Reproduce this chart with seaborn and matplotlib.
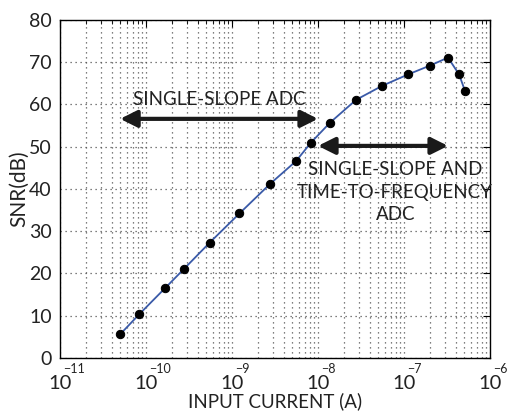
import numpy as np
import pandas as pd
import matplotlib
matplotlib.use("Agg")
import matplotlib.pyplot as plt
import matplotlib.ticker as mticker
import seaborn as sns

# data
current = [5.0e-11, 8.3e-11, 1.66e-10, 2.74e-10, 5.5e-10, 1.22e-9, 2.77e-9,
           5.55e-9, 8.3e-9, 1.38e-8, 2.77e-8, 5.55e-8, 1.11e-7, 2.0e-7,
           3.25e-7, 4.37e-7, 5.1e-7]
snr = [5.6, 10.3, 16.5, 21.0, 27.3, 34.2, 41.2, 46.6, 51.0, 55.7, 61.1,
       64.4, 67.1, 69.2, 71.1, 67.1, 63.3]

arrow1 = [5.0e-11, 1.0e-8]
arrow1_y = 56.6
arrow2 = [1.0e-8, 3.25e-7]
arrow2_y = 50.2
label1 = "SINGLE-SLOPE ADC"
label2 = ["SINGLE-SLOPE AND", "TIME-TO-FREQUENCY", "ADC"]

df = pd.DataFrame({"current": current, "snr": snr})

sns.set_style("white")
font = ["Lato", "DejaVu Sans"]
plt.rcParams["font.family"] = font

fig = plt.figure(figsize=(5.09, 4.12), dpi=100)
ax = fig.add_axes([0.1179, 0.1311, 0.8448, 0.8204])

sns.lineplot(data=df, x="current", y="snr", ax=ax, color="#3a5aa8", lw=1.3,
             marker="o", markersize=6, markerfacecolor="black",
             markeredgecolor="black", zorder=3)

ax.set_xscale("log")
ax.set_xlim(1e-11, 1e-6)
ax.set_ylim(0, 80)
ax.set_yticks(range(0, 81, 10))
ax.xaxis.set_major_locator(mticker.LogLocator(base=10, numticks=10))
ax.xaxis.set_minor_locator(mticker.LogLocator(base=10, subs=np.arange(2, 10), numticks=10))
# matlab style: big "10" centred on the tick, small exponent up-right
ax.xaxis.set_major_formatter(mticker.FuncFormatter(lambda v, p: "10"))
ax.xaxis.set_minor_formatter(mticker.NullFormatter())
for v in ax.get_xticks():
    if 1e-11 * 0.99 <= v <= 1e-6 * 1.01:
        e = int(round(np.log10(v)))
        ax.annotate(f"\u2212{abs(e)}", xy=(v, 0), xycoords=("data", "axes fraction"),
                    xytext=(2.5, -3.5), textcoords="offset points", ha="left", va="top",
                    fontsize=9, color="#222222", annotation_clip=False)

dots = (0, (1, 3))
ax.grid(True, which="major", axis="both", linestyle=dots, color="#555555", lw=0.9)
ax.grid(True, which="minor", axis="x", linestyle=dots, color="#555555", lw=0.9)
ax.tick_params(which="both", direction="in", top=True, right=True, color="black")
ax.tick_params(which="major", length=5, width=0.8, pad=6)
ax.tick_params(axis="y", labelsize=14, labelcolor="#222222")
ax.tick_params(axis="x", which="major", labelsize=14.5, pad=12.5, labelcolor="#222222")
ax.tick_params(which="minor", length=3, width=0.6)
for s in ax.spines.values():
    s.set_color("black")
    s.set_linewidth(1.0)

ax.set_xlabel("INPUT CURRENT (A)", fontsize=13.5, labelpad=0, color="#222222")
ax.set_ylabel("SNR(dB)", fontsize=15, labelpad=0, color="#222222")

for xs, yy in [(arrow1, arrow1_y), (arrow2, arrow2_y)]:
    ax.annotate("", xy=(xs[0], yy), xytext=(xs[1], yy),
                arrowprops=dict(arrowstyle="<|-|>", color="#1a1a1a", lw=3,
                                mutation_scale=25, shrinkA=0, shrinkB=0))
ax.text(7.2e-10, 61.2, label1, ha="center", va="center", fontsize=13.5, color="#222222")
for i, t in enumerate(label2):
    ax.text(7.9e-8, 44.6 - i * 5.35, t, ha="center", va="center", fontsize=13.5,
            color="#222222")

fig.savefig("out.png", dpi=100)
